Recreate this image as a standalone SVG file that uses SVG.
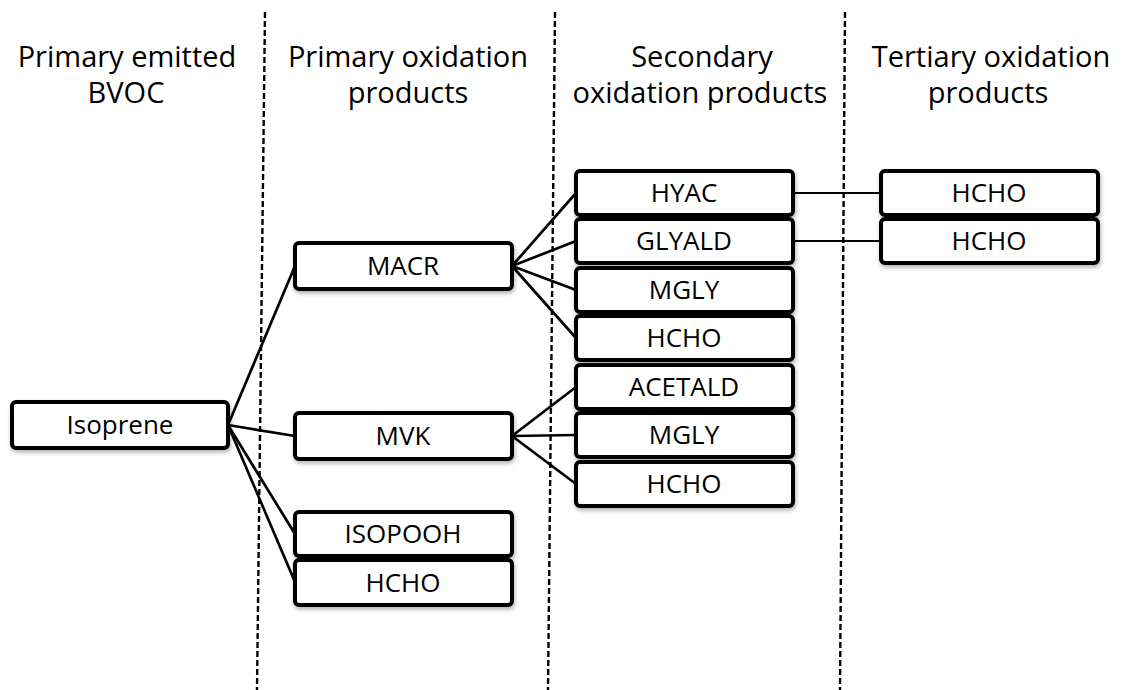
<svg xmlns="http://www.w3.org/2000/svg" width="1123" height="690" viewBox="0 0 1123 690">
<style>
.hdr{font-family:"Open Sans","Liberation Sans",sans-serif;font-size:29px;fill:#000;text-anchor:middle}
.box{fill:#fff;stroke:#000;stroke-width:4;filter:url(#sh)}
.lbl{font-family:"Open Sans","Liberation Sans",sans-serif;font-size:26px;fill:#000;text-anchor:middle}
.div{stroke:#000;stroke-width:2.4;stroke-dasharray:6,3;fill:none}
.c{stroke:#000;stroke-width:2.7;fill:none}
.h{stroke:#000;stroke-width:2;fill:none}
</style>
<defs>
<filter id="sh" x="-10%" y="-20%" width="120%" height="150%">
<feDropShadow dx="1" dy="2.5" stdDeviation="2" flood-color="#000" flood-opacity="0.3"/>
</filter>
</defs>
<rect width="1123" height="690" fill="#fff"/>
<g id="dividers">
<line class="div" x1="265" y1="12" x2="257" y2="690"/>
<line class="div" x1="555" y1="12" x2="548" y2="690"/>
<line class="div" x1="845" y1="12" x2="840" y2="690"/>
</g>
<g id="headers">
<text class="hdr" x="127" y="67">Primary emitted</text>
<text class="hdr" x="126" y="103">BVOC</text>
<text class="hdr" x="408" y="67">Primary oxidation</text>
<text class="hdr" x="408" y="103">products</text>
<text class="hdr" x="702" y="67">Secondary</text>
<text class="hdr" x="700" y="103">oxidation products</text>
<text class="hdr" x="991" y="67">Tertiary oxidation</text>
<text class="hdr" x="988" y="103">products</text>
</g>
<g id="connectors">
<line class="c" x1="228" y1="425" x2="295" y2="266"/>
<line class="c" x1="228" y1="425" x2="295" y2="436"/>
<line class="c" x1="228" y1="425" x2="295" y2="534"/>
<line class="c" x1="228" y1="425" x2="295" y2="582"/>
<line class="c" x1="512" y1="266" x2="576" y2="193"/>
<line class="c" x1="512" y1="266" x2="576" y2="241"/>
<line class="c" x1="512" y1="266" x2="576" y2="290"/>
<line class="c" x1="512" y1="266" x2="576" y2="338"/>
<line class="c" x1="512" y1="436" x2="576" y2="387"/>
<line class="c" x1="512" y1="436" x2="576" y2="435"/>
<line class="c" x1="512" y1="436" x2="576" y2="484"/>
<line class="h" x1="793" y1="193" x2="881" y2="193"/>
<line class="h" x1="793" y1="241" x2="881" y2="241"/>
</g>
<g id="isoprene"><rect class="box" x="12" y="402" width="216" height="46" rx="4"/><text class="lbl" x="120" y="434">Isoprene</text></g>
<g id="macr"><rect class="box" x="295" y="243" width="217" height="46" rx="4"/><text class="lbl" x="403" y="275">MACR</text></g>
<g id="mvk"><rect class="box" x="295" y="413" width="217" height="46" rx="4"/><text class="lbl" x="403" y="445">MVK</text></g>
<g id="isopooh"><rect class="box" x="295" y="512" width="217" height="44" rx="4"/><text class="lbl" x="403" y="543">ISOPOOH</text></g>
<g id="hcho1"><rect class="box" x="295" y="560" width="217" height="45" rx="4"/><text class="lbl" x="403" y="592">HCHO</text></g>
<g id="hyac"><rect class="box" x="576" y="171" width="217" height="44" rx="4"/><text class="lbl" x="684" y="202">HYAC</text></g>
<g id="glyald"><rect class="box" x="576" y="219" width="217" height="44" rx="4"/><text class="lbl" x="684" y="250">GLYALD</text></g>
<g id="mgly1"><rect class="box" x="576" y="268" width="217" height="44" rx="4"/><text class="lbl" x="684" y="299">MGLY</text></g>
<g id="hcho2"><rect class="box" x="576" y="316" width="217" height="44" rx="4"/><text class="lbl" x="684" y="347">HCHO</text></g>
<g id="acetald"><rect class="box" x="576" y="365" width="217" height="44" rx="4"/><text class="lbl" x="684" y="396">ACETALD</text></g>
<g id="mgly2"><rect class="box" x="576" y="413" width="217" height="44" rx="4"/><text class="lbl" x="684" y="444">MGLY</text></g>
<g id="hcho3"><rect class="box" x="576" y="462" width="217" height="44" rx="4"/><text class="lbl" x="684" y="493">HCHO</text></g>
<g id="hcho4"><rect class="box" x="881" y="171" width="217" height="44" rx="4"/><text class="lbl" x="989" y="202">HCHO</text></g>
<g id="hcho5"><rect class="box" x="881" y="219" width="217" height="44" rx="4"/><text class="lbl" x="989" y="250">HCHO</text></g>
</svg>
